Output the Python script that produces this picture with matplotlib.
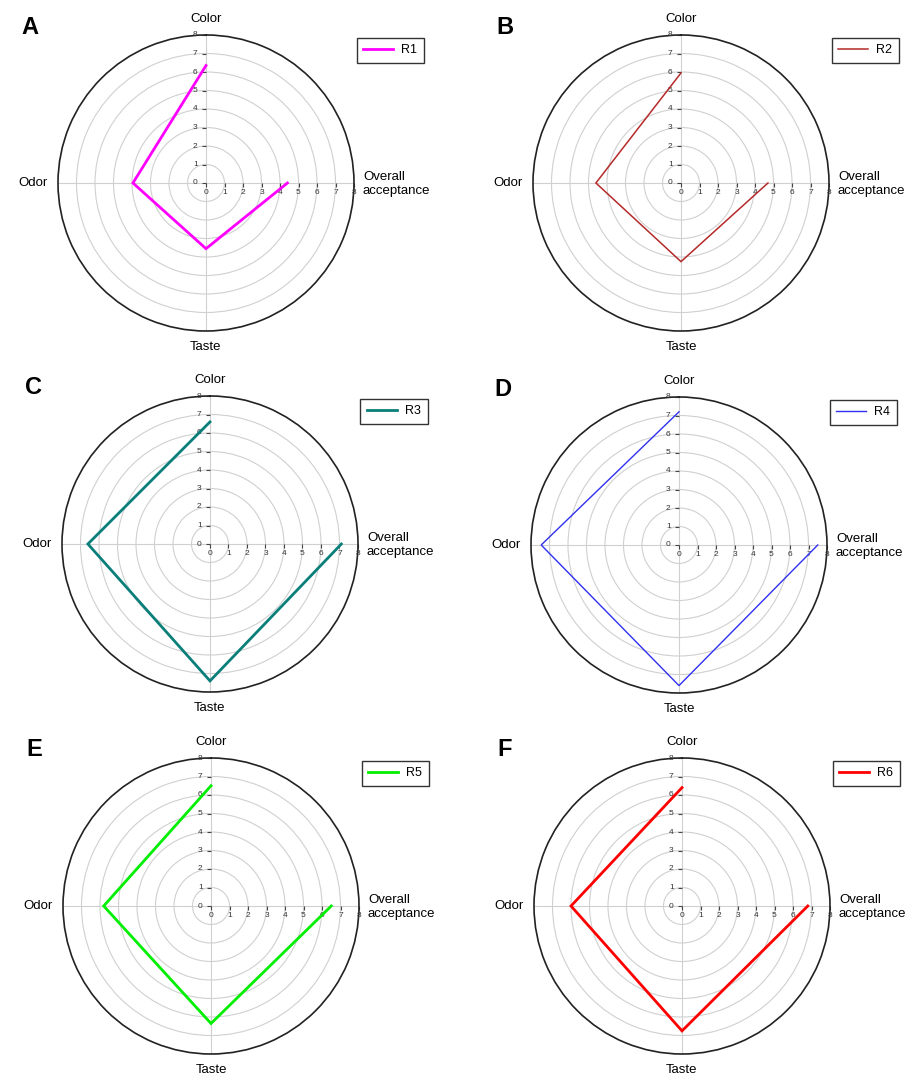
import numpy as np
import matplotlib
matplotlib.use("Agg")
import matplotlib.pyplot as plt
from matplotlib.markers import TICKLEFT, TICKDOWN

plt.rcParams['font.family'] = ['Liberation Sans', 'DejaVu Sans']

# attributes, drawn clockwise from the top
attributes = ["Color", "Overall acceptance", "Taste", "Odor"]
angles_deg = [0, 90, 180, 270]

# scores (0-8 scale)
r1 = {"Color": 6.35, "Odor": 3.95, "Taste": 3.55, "Overall acceptance": 4.4}
r2 = {"Color": 5.95, "Odor": 4.6, "Taste": 4.25, "Overall acceptance": 4.7}
r3 = {"Color": 6.6, "Odor": 6.6, "Taste": 7.4, "Overall acceptance": 7.1}
r4 = {"Color": 7.2, "Odor": 7.45, "Taste": 7.6, "Overall acceptance": 7.5}
r5 = {"Color": 6.5, "Odor": 5.8, "Taste": 6.35, "Overall acceptance": 6.5}
r6 = {"Color": 6.4, "Odor": 6.0, "Taste": 6.75, "Overall acceptance": 6.8}

samples = ["R1", "R2", "R3", "R4", "R5", "R6"]
series = [r1, r2, r3, r4, r5, r6]
panel_letters = ["A", "B", "C", "D", "E", "F"]
line_colors = ["#FF00FF", "#B52A2A", "#0A7F7A", "#3030F0", "#00EE00", "#FF0000"]
line_widths = [2.0, 1.1, 2.0, 1.0, 2.0, 2.0]

# path order of the polyline (open, as in the original)
path_order = ["Color", "Odor", "Taste", "Overall acceptance"]
ticks = list(range(0, 9))

# panel centers / radius in pixels
W, H = 909, 1082
centers = [(206, 183), (681, 183), (210, 544), (679, 545), (211, 906), (682, 906)]
R = 148

fig = plt.figure(figsize=(W / 100, H / 100), dpi=100)

for i in range(6):
    cx, cy = centers[i]
    rect = [(cx - R) / W, 1 - (cy + R) / H, 2 * R / W, 2 * R / H]
    ax = fig.add_axes(rect, projection='polar')
    ax.set_theta_zero_location('N')
    ax.set_theta_direction(-1)
    ax.set_ylim(0, 8)
    ax.set_yticks(ticks[1:-1])
    ax.set_yticklabels([])
    ax.set_xticks(np.deg2rad(angles_deg))
    ax.set_xticklabels([])
    ax.grid(True, color='#D0D0D0', linewidth=0.8)
    ax.tick_params(axis='y', length=0)
    ax.tick_params(axis='x', length=4, width=1, color='black', direction='out', pad=0)
    ax.spines['polar'].set_color('#222222')
    ax.spines['polar'].set_linewidth(1.2)

    d = series[i]
    th = [np.deg2rad(angles_deg[attributes.index(k)]) for k in path_order]
    rr = [d[k] for k in path_order]
    ax.plot(th, rr, color=line_colors[i], lw=line_widths[i], label=samples[i],
            solid_joinstyle='miter', zorder=5)

    # axis ticks and numbers along the Color and Overall acceptance axes
    ax.plot([0] * len(ticks), ticks, ls='none', marker=TICKLEFT, ms=3,
            color='#444444', mew=0.8, clip_on=False)
    ax.plot([np.pi / 2] * len(ticks), ticks, ls='none', marker=TICKDOWN, ms=3,
            color='#444444', mew=0.8, clip_on=False)
    for t in ticks:
        ax.annotate(str(t), xy=(0, t), xytext=(-6, 0), textcoords='offset points',
                    ha='right', va='center', fontsize=6, color='#333333',
                    annotation_clip=False)
        ax.annotate(str(t), xy=(np.pi / 2, t), xytext=(0, -4.5), textcoords='offset points',
                    ha='center', va='top', fontsize=6, color='#333333',
                    annotation_clip=False)

    # attribute labels
    ax.text(0.5, 1.035, "Color", transform=ax.transAxes, ha='center', va='bottom', fontsize=9.5)
    ax.text(0.5, -0.035, "Taste", transform=ax.transAxes, ha='center', va='top', fontsize=9.5)
    ax.text(-0.035, 0.5, "Odor", transform=ax.transAxes, ha='right', va='center', fontsize=9.5)
    ax.text(1.03, 0.54, "Overall\nacceptance", transform=ax.transAxes, ha='left', va='top',
            fontsize=9.5, linespacing=1.2)

    leg = ax.legend(loc='upper left', bbox_to_anchor=(1.0, 1.0), fontsize=9,
                    fancybox=False, framealpha=1, edgecolor='#333333',
                    handlelength=2.4, borderpad=0.55, handletextpad=0.6,
                    borderaxespad=0.2)
    leg.get_frame().set_linewidth(1.0)

    fig.text((cx - R - 37) / W, 1 - (cy - R - 8) / H, panel_letters[i],
             fontsize=17, fontweight='bold', ha='left', va='center')

fig.savefig("out.png", dpi=100)
